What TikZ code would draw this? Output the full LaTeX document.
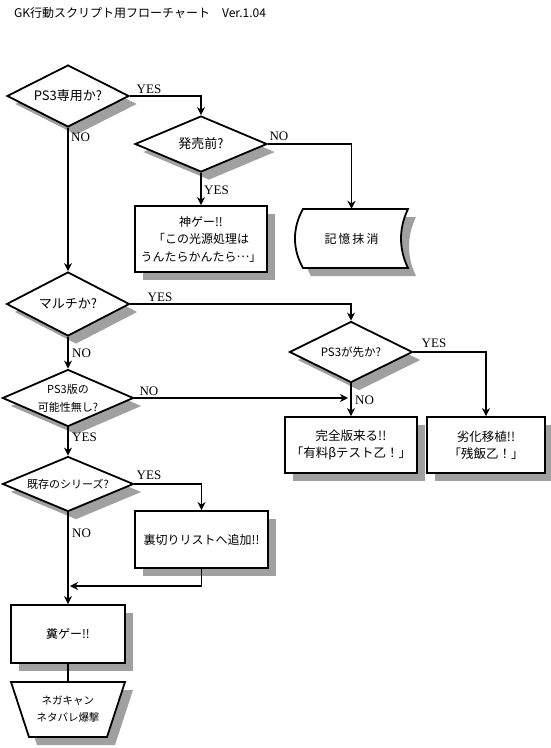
\documentclass[tikz,border=0pt]{standalone}
\usepackage{fontspec}
\setmainfont{Liberation Serif}
\newfontfamily\jp{Noto Sans CJK JP}
\usetikzlibrary{arrows.meta,shapes.geometric,shadows}
\definecolor{shadowgray}{RGB}{160,160,160}
\tikzset{
  shp/.style={draw=black, line width=1.8pt, fill=white,
    drop shadow={shadow xshift=8pt,shadow yshift=-8pt,opacity=1,fill=shadowgray}},
  dia/.style={shp, shape=diamond, inner sep=0pt},
  box/.style={shp, rectangle, inner sep=0pt, align=center, font=\jp\fontsize{12}{17.5}\selectfont},
  jt/.style={font=\jp\fontsize{12}{17.5}\selectfont, align=center, inner sep=0pt},
  jbig/.style={font=\jp\fontsize{13}{17.5}\selectfont, align=center, inner sep=0pt},
  jsmall/.style={font=\jp\fontsize{11}{18}\selectfont, align=center, inner sep=0pt},
  conn/.style={line width=1.8pt},
  arr/.style={conn, -{Stealth[length=8pt,width=8pt,inset=2.5pt]}},
  yn/.style={font=\fontsize{13}{13}\selectfont, inner sep=0pt},
}
\begin{document}
\begin{tikzpicture}[x=1pt,y=-1pt]
\fill[white] (0,0) rectangle (550,748);
\useasboundingbox (0,0) rectangle (550,748);

\node[font=\jp\fontsize{12}{12}\selectfont, anchor=west, inner sep=0pt] (title) at (14,13) {GK行動スクリプト用フローチャート　Ver.1.04};

% diamonds
\node[dia, minimum width=122pt, minimum height=62pt, label={[jbig]center:PS3専用か?}] (d1) at (68,96) {};
\node[dia, minimum width=132pt, minimum height=56pt, label={[jbig]center:発売前?}] (d2) at (201,144) {};
\node[dia, minimum width=123pt, minimum height=64pt, label={[jbig]center:マルチか?}] (d3) at (68,304) {};
\node[dia, minimum width=123pt, minimum height=61pt, label={[jsmall,font=\jp\fontsize{11.5}{18}\selectfont]center:PS3が先か?}] (d4) at (351,352) {};
\node[dia, minimum width=131pt, minimum height=57pt, label={[jsmall]center:{PS3版の\\可能性無し?}}] (d5) at (68,398) {};
\node[dia, minimum width=131pt, minimum height=55pt, label={[jsmall]center:既存のシリーズ?}] (d6) at (68,484) {};

% boxes
\node[box, minimum width=132pt, minimum height=66pt] (kami) at (201,239) {神ゲー!!\\「この光源処理は\\うんたらかんたら\raisebox{0.33em}{…}」};
\node[box, minimum width=132pt, minimum height=56pt, font=\jp\fontsize{12.5}{17}\selectfont] (kanzen) at (351,445) {完全版来る!!\\「有料βテスト乙！」};
\node[box, minimum width=118pt, minimum height=56pt, font=\jp\fontsize{12.5}{17}\selectfont] (rekka) at (486,445) {劣化移植!!\\「残飯乙！」};
\node[box, minimum width=133pt, minimum height=57pt] (ura) at (201.5,539.5) {裏切りリストへ追加!!};
\node[box, minimum width=114pt, minimum height=58pt] (kuso) at (68,634) {糞ゲー!!};

% stored data shape
\def\kiokupath{(303,209) -- (408,209) .. controls (398.7,228) and (398.7,249) .. (408,268) -- (303,268) .. controls (292.3,249) and (292.3,228) .. cycle}
\begin{scope}[shift={(8,8)}]
  \fill[shadowgray] \kiokupath;
\end{scope}
\draw[line width=1.8pt, fill=white] \kiokupath;
\node[jt, minimum width=113pt, minimum height=59pt] (kioku) at (351.5,238.5) {記\,憶\,抹\,消};

% manual operation shape
\def\negpath{(11,682) -- (125,682) -- (107,737) -- (29,737) -- cycle}
\begin{scope}[shift={(8,8)}]
  \fill[shadowgray] \negpath;
\end{scope}
\draw[line width=1.8pt, fill=white] \negpath;
\node[font=\jp\fontsize{10.5}{17}\selectfont, align=center, inner sep=0pt, minimum width=114pt, minimum height=55pt] (neg) at (68,709.5) {ネガキャン\\ネタバレ爆撃};

% connectors
\coordinate (d5end) at (348,398);
\coordinate (merge) at (70,586);
\draw[arr] (d1.east) -| (d2.north);
\draw[arr] (d1.south) -- (d3.north);
\draw[arr] (d2.east) -| (kioku.north);
\draw[arr] (d2.south) -- (kami.north);
\draw[arr] (d3.east) -| (d4.north);
\draw[arr] (d3.south) -- (d5.north);
\draw[arr] (d4.east) -| (rekka.north);
\draw[arr] (d4.south) -- (kanzen.north);
\draw[arr] (d5.east) -- (d5end);
\draw[arr] (d5.south) -- (d6.north);
\draw[arr] (d6.east) -| (ura.north);
\draw[arr] (d6.south) -- (kuso.north);
\draw[arr] (ura.south) |- (merge);
\draw[conn] (kuso.south) -- (neg.north);

% YES / NO labels
\node[yn] (l1) at (149,89) {YES};
\node[yn, anchor=west] (l2) at (71,137) {NO};
\node[yn] (l3) at (279,136) {NO};
\node[yn, anchor=west] (l4) at (204,190) {YES};
\node[yn] (l5) at (160,297) {YES};
\node[yn, anchor=west] (l6) at (72,353) {NO};
\node[yn] (l7) at (434,343) {YES};
\node[yn, anchor=west] (l8) at (355,400) {NO};
\node[yn] (l9) at (149,391) {NO};
\node[yn, anchor=west] (l10) at (72,437) {YES};
\node[yn] (l11) at (149,475) {YES};
\node[yn, anchor=west] (l12) at (72,533) {NO};
\end{tikzpicture}
\end{document}
